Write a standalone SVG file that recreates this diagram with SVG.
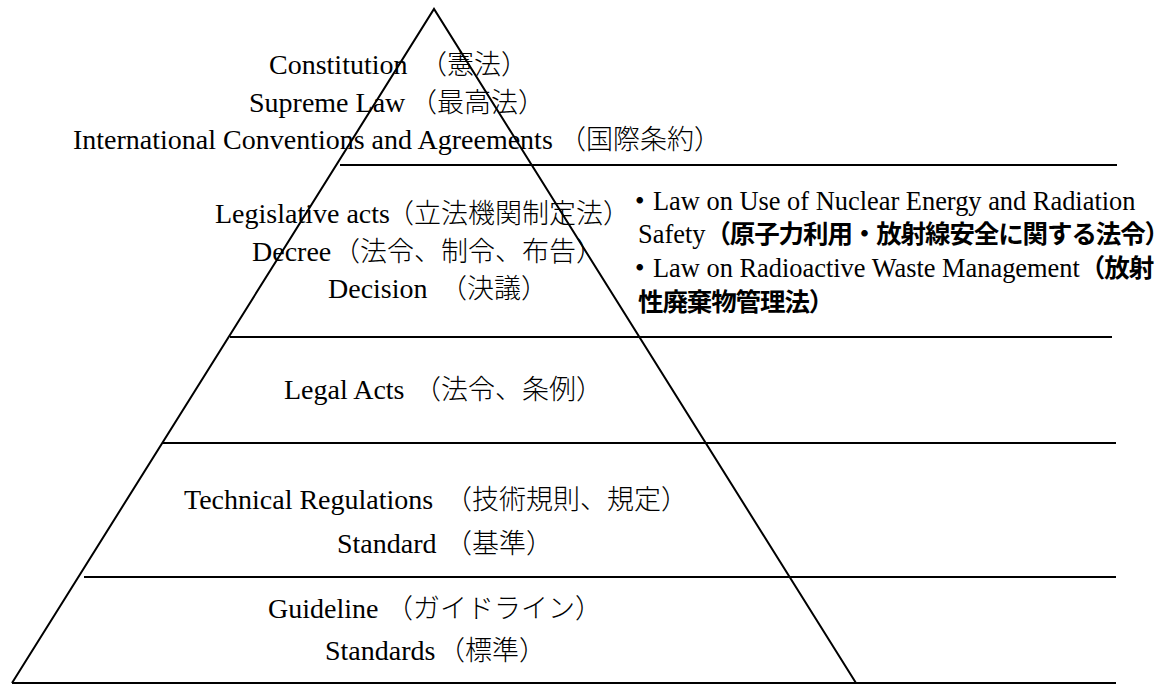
<svg xmlns="http://www.w3.org/2000/svg" width="1172" height="684" viewBox="0 0 1172 684">
<style>
.ln{stroke:#000;stroke-width:2;fill:none;stroke-linejoin:miter}
.hl{stroke:#000;stroke-width:2}
.t{font-family:"Liberation Serif","Times New Roman",serif;font-size:28px;fill:#000}
.j{font-family:"Noto Sans CJK JP",sans-serif;font-size:27px;font-weight:300}
.r{font-family:"Liberation Serif","Times New Roman",serif;font-size:26.4px;fill:#000}
.rj{font-family:"Noto Sans CJK JP",sans-serif;font-size:25.5px;font-weight:700;letter-spacing:-1.1px}
</style>
<rect width="1172" height="684" fill="#fff"/>
<g id="connectors">
<polyline class="ln" points="12,683 434,9 856,683"/>
<line class="hl" x1="340" y1="165" x2="1117" y2="165"/>
<line class="hl" x1="230" y1="337" x2="1112" y2="337"/>
<line class="hl" x1="162" y1="443" x2="1116" y2="443"/>
<line class="hl" x1="84" y1="577" x2="1116" y2="577"/>
<line class="hl" x1="12" y1="683" x2="1116" y2="683"/>
</g>
<g id="tier1">
<text class="t" x="269" y="74">Constitution<tspan class="j" x="420">（憲法）</tspan></text>
<text class="t" x="249" y="112">Supreme Law<tspan class="j" x="410">（最高法）</tspan></text>
<text class="t" x="73" y="149">International Conventions and Agreements<tspan class="j" x="559">（国際条約）</tspan></text>
</g>
<g id="tier2">
<text class="t" x="215" y="223">Legislative acts<tspan class="j" x="387">（立法機関制定法）</tspan></text>
<text class="t" x="252" y="261">Decree<tspan class="j" x="333">（法令、制令、布告）</tspan></text>
<text class="t" x="328" y="298">Decision<tspan class="j" x="440">（決議）</tspan></text>
</g>
<g id="tier2-note">
<text class="r" y="210"><tspan class="rj" x="627">・</tspan><tspan x="653">Law on Use of Nuclear Energy and Radiation</tspan></text>
<text class="r" x="638" y="243">Safety<tspan class="rj">（原子力利用・放射線安全に関する法令）</tspan></text>
<text class="r" y="277"><tspan class="rj" x="627">・</tspan><tspan x="653">Law on Radioactive Waste Management</tspan><tspan class="rj">（放射</tspan></text>
<text class="rj" x="638" y="311">性廃棄物管理法）</text>
</g>
<g id="tier3">
<text class="t" x="284" y="399">Legal Acts<tspan class="j" x="414">（法令、条例）</tspan></text>
</g>
<g id="tier4">
<text class="t" x="184" y="509">Technical Regulations<tspan class="j" x="445">（技術規則、規定）</tspan></text>
<text class="t" x="337" y="553">Standard<tspan class="j" x="445">（基準）</tspan></text>
</g>
<g id="tier5">
<text class="t" x="268" y="618">Guideline<tspan class="j" x="386">（ガイドライン）</tspan></text>
<text class="t" x="325" y="660">Standards<tspan class="j" x="438">（標準）</tspan></text>
</g>
</svg>
